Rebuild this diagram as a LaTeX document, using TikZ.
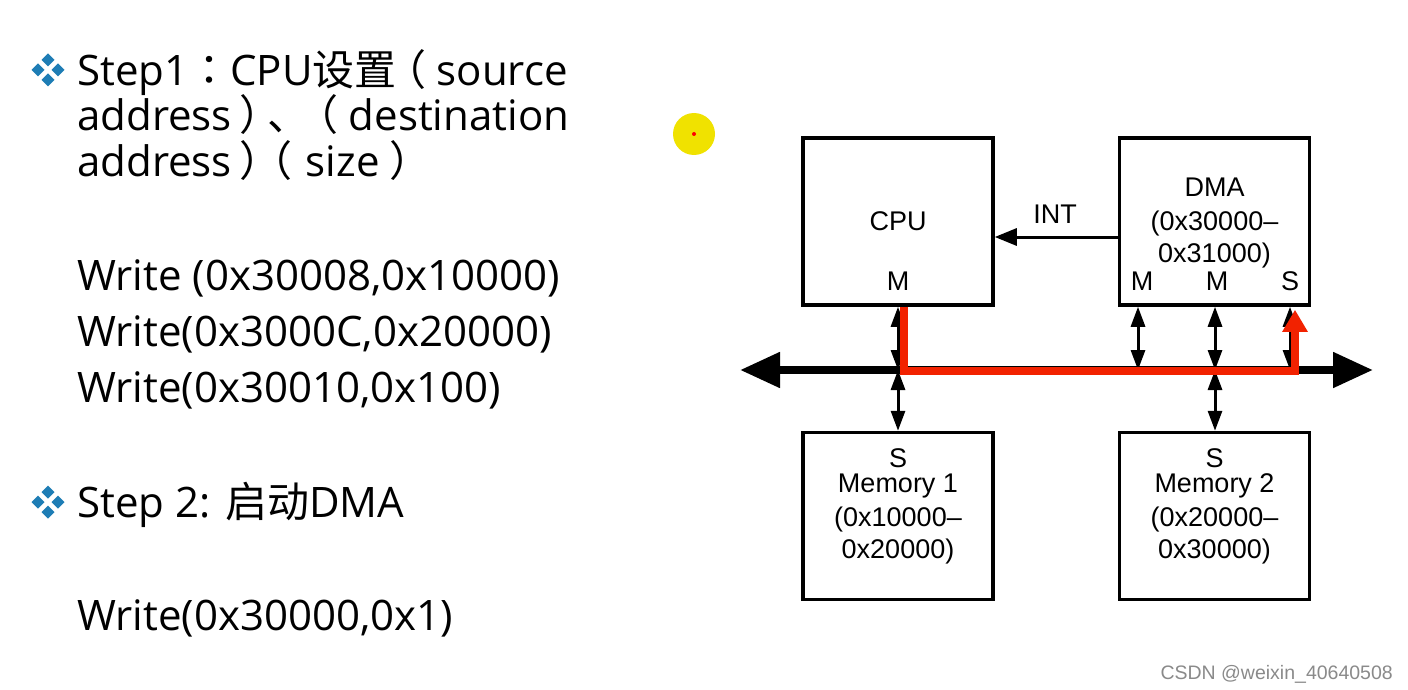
\documentclass[tikz,border=0pt]{standalone}
\usepackage{fontspec}
\setmainfont{Open Sans}
\newfontfamily\cjk{Noto Sans CJK SC}
\newfontfamily\cjkjp{Noto Sans CJK JP}
\newfontfamily\dfont{Liberation Sans}
\usetikzlibrary{arrows.meta,calc}
\definecolor{bulletblue}{HTML}{1E7DB5}
\definecolor{busred}{HTML}{F22200}
\definecolor{dotyellow}{HTML}{F0E200}
\definecolor{wmgray}{HTML}{8A8A8A}
\tikzset{
 box/.style={draw=black, line width=3.5pt, minimum width=190pt, minimum height=167pt, inner sep=0pt},
 lefttxt/.style={anchor=base west, inner sep=0pt, font=\fontsize{42}{50}\selectfont},
 dtxt/.style={anchor=base, inner sep=0pt, font=\dfont\fontsize{27}{32}\selectfont},
 dbl/.style={line width=3pt, {Triangle[length=20pt,width=14pt]}-{Triangle[length=20pt,width=14pt]}},
 bus/.style={line width=8pt, {Triangle[length=40pt,width=34pt]}-{Triangle[length=40pt,width=34pt]}},
 redpath/.style={line width=8.5pt, draw=busred, -{Triangle[length=22pt,width=24pt]}},
 intarrow/.style={line width=3pt, -{Triangle[length=22pt,width=17pt]}},
}
\begin{document}
\begin{tikzpicture}[x=1pt,y=-1pt]
\fill[white] (0,0) rectangle (1408,690);
\useasboundingbox (0,0) rectangle (1408,690);

% bullets
\foreach \cy in {70,502} {
  \foreach \dx/\dy in {0/-10,-10/0,10/0,0/10} {
    \fill[bulletblue,shift={(48+\dx,\cy+\dy)}] (0,-6.5) -- (6.5,0) -- (0,6.5) -- (-6.5,0) -- cycle;
  }
}

% left text
\node[lefttxt] (s1a) at (77,86) {Step1{\cjkjp ：}CPU{\cjk 设置}\hspace{-0.29em}{\cjk （}\hspace{0.24em}source};
\node[lefttxt] (s1b) at (77,131) {address\hspace{0.17em}{\cjk ）}\hspace{-0.33em}{\cjk 、}\hspace{-0.31em}{\cjk （}\hspace{0.25em}destination};
\node[lefttxt] (s1c) at (77,176) {address\hspace{0.17em}{\cjk ）}\hspace{-0.74em}{\cjk （}\hspace{0.33em}size\hspace{0.24em}{\cjk ）}};
\node[lefttxt] (w1) at (77,290) {Write (0x30008,0x10000)};
\node[lefttxt] (w2) at (77,346) {Write(0x3000C,0x20000)};
\node[lefttxt] (w3) at (77,402) {Write(0x30010,0x100)};
\node[lefttxt] (s2) at (77,517) {Step 2: {\cjk 启动}DMA};
\node[lefttxt] (w4) at (77,630) {Write(0x30000,0x1)};

% pointer dot
\fill[dotyellow] (694,134) circle[radius=21pt];
\fill[red] (694,134) circle[radius=2pt];

% boxes
\node[box] (cpu) at (898,221.5) {};
\node[box] (dma) at (1214.5,221.5) {};
\node[box] (memA) at (898,516) {};
\node[box] (memB) at (1214.5,516) {};

% box labels
\node[dtxt] (cpulab) at (898,230) {CPU};
\node[dtxt] (cpum) at (898,290) {M};
\node[dtxt] (dmalab) at (1214.5,196) {DMA};
\node[dtxt] (dmaa) at (1214.5,230) {(0x30000–};
\node[dtxt] (dmab) at (1214.5,262) {0x31000)};
\node[dtxt] (dmam1) at (1142,290) {M};
\node[dtxt] (dmam2) at (1217,290) {M};
\node[dtxt] (dmas) at (1290,290) {S};
\node[dtxt] (mas) at (898,467) {S};
\node[dtxt] (maa) at (898,492) {Memory 1};
\node[dtxt] (mab) at (898,526) {(0x10000–};
\node[dtxt] (mac) at (898,558) {0x20000)};
\node[dtxt] (mbs) at (1214.5,467) {S};
\node[dtxt] (mba) at (1214.5,492) {Memory 2};
\node[dtxt] (mbb) at (1214.5,526) {(0x20000–};
\node[dtxt] (mbc) at (1214.5,558) {0x30000)};

% bus
\coordinate (busL) at (740,370);
\coordinate (busR) at (1373,370);
\draw[bus] (busL) -- (busR);

\coordinate (t0) at (898,370);
\coordinate (t1) at (1138,370);
\coordinate (t2) at (1215,370);
\coordinate (t3) at (1290,370);

\draw[dbl] (cpu.south) -- (t0);
\draw[dbl] (t0) -- (memA.north);
\draw[dbl] (dma.south -| t1) -- (t1);
\draw[dbl] (dma.south -| t2) -- (t2);
\draw[dbl] (dma.south -| t3) -- (t3);
\draw[dbl] (t2) -- (memB.north -| t2);

% INT
\draw[intarrow] ([yshift=-15.5pt]dma.west) -- ([yshift=-15.5pt]cpu.east);
\node[dtxt] (intlab) at (1055,223) {INT};

% red path
\coordinate (rA) at (904,371);
\coordinate (rB) at (1295,371);
\draw[redpath] (cpu.south -| rA) -- (rA) -- (rB) -- ($(dma.south -| rB)+(0,3)$);

% watermark
\node[anchor=base east, inner sep=0pt, font=\dfont\fontsize{19.5}{22}\selectfont, text=wmgray] (wm) at (1393,679) {CSDN @weixin\_40640508};
\end{tikzpicture}
\end{document}
